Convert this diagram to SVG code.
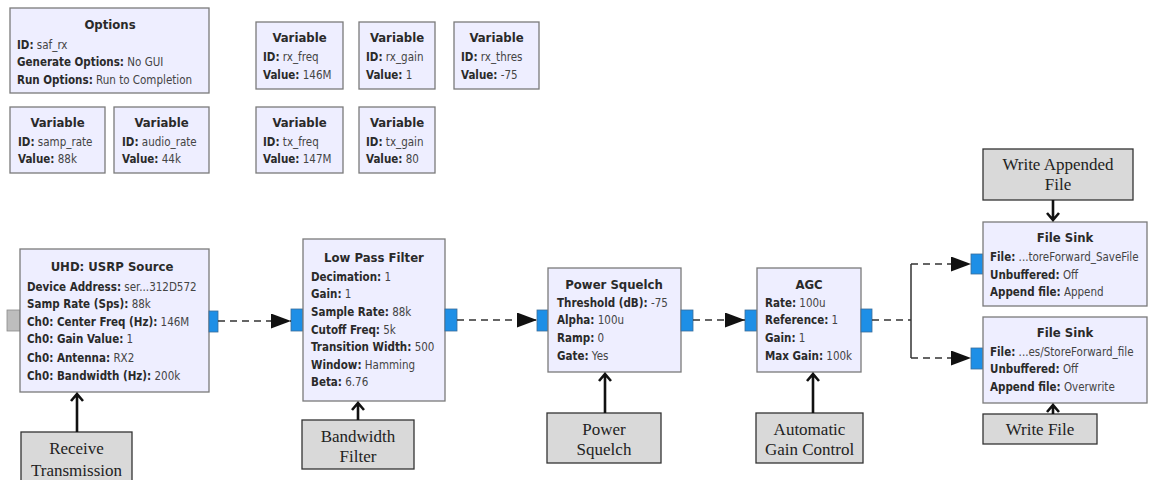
<svg xmlns="http://www.w3.org/2000/svg" width="1149" height="480" viewBox="0 0 1149 480">
  <style>
    .blk { fill: #EEEEFF; stroke: #7A7A7A; stroke-width: 1.3; }
    .port { fill: #1E8FE6; stroke: #3A6D99; stroke-width: 0.8; }
    .gport { fill: #BDBDBD; stroke: #8A8A8A; stroke-width: 0.8; }
    .lbl { fill: #D9D9D9; stroke: #333333; stroke-width: 1.3; }
    text { font-family: "DejaVu Sans Condensed", "DejaVu Sans", "Liberation Sans", sans-serif; font-size: 11.5px; fill: #444444; }
    .t { font-weight: bold; font-size: 13px; fill: #2A2A2A; text-anchor: middle; }
    .k { font-weight: bold; fill: #2A2A2A; }
    .cap { font-family: "Liberation Serif", "Times New Roman", serif; font-size: 17px; fill: #222222; text-anchor: middle; }
    .flow { fill: none; stroke: #333333; stroke-width: 1.5; stroke-dasharray: 7 5; }
    .solid { fill: none; stroke: #333333; stroke-width: 1.5; }
    .ptr { fill: none; stroke: #111111; stroke-width: 2.6; }
  </style>
  <defs>
    <marker id="tri" markerWidth="20" markerHeight="15" refX="20" refY="7.5" orient="auto" markerUnits="userSpaceOnUse" viewBox="0 0 20 15">
      <path d="M0,0 L20,7.5 L0,15 Z" fill="#111111"/>
    </marker>
  </defs>

  <!-- variables and options -->
  <g id="options">
    <rect class="blk" x="10" y="8" width="199" height="85"/>
    <text class="t" x="110" y="29">Options</text>
    <text x="17" y="49"><tspan class="k">ID:</tspan> saf_rx</text>
    <text x="17" y="66"><tspan class="k">Generate Options:</tspan> No GUI</text>
    <text x="17" y="84"><tspan class="k">Run Options:</tspan> Run to Completion</text>
  </g>
  <g id="var_samp_rate">
    <rect class="blk" x="10" y="107" width="95" height="66"/>
    <text class="t" x="57.5" y="127">Variable</text>
    <text x="18" y="146"><tspan class="k">ID:</tspan> samp_rate</text>
    <text x="18" y="163"><tspan class="k">Value:</tspan> 88k</text>
  </g>
  <g id="var_audio_rate">
    <rect class="blk" x="114" y="107" width="95" height="66"/>
    <text class="t" x="161.5" y="127">Variable</text>
    <text x="122" y="146"><tspan class="k">ID:</tspan> audio_rate</text>
    <text x="122" y="163"><tspan class="k">Value:</tspan> 44k</text>
  </g>
  <g id="var_rx_freq">
    <rect class="blk" x="256" y="22" width="87" height="67"/>
    <text class="t" x="299.5" y="42">Variable</text>
    <text x="263" y="61"><tspan class="k">ID:</tspan> rx_freq</text>
    <text x="263" y="79"><tspan class="k">Value:</tspan> 146M</text>
  </g>
  <g id="var_rx_gain">
    <rect class="blk" x="359" y="22" width="76" height="67"/>
    <text class="t" x="397" y="42">Variable</text>
    <text x="366" y="61"><tspan class="k">ID:</tspan> rx_gain</text>
    <text x="366" y="79"><tspan class="k">Value:</tspan> 1</text>
  </g>
  <g id="var_rx_thres">
    <rect class="blk" x="454" y="22" width="85" height="67"/>
    <text class="t" x="496.5" y="42">Variable</text>
    <text x="461" y="61"><tspan class="k">ID:</tspan> rx_thres</text>
    <text x="461" y="79"><tspan class="k">Value:</tspan> -75</text>
  </g>
  <g id="var_tx_freq">
    <rect class="blk" x="256" y="107" width="87" height="66"/>
    <text class="t" x="299.5" y="127">Variable</text>
    <text x="263" y="146"><tspan class="k">ID:</tspan> tx_freq</text>
    <text x="263" y="163"><tspan class="k">Value:</tspan> 147M</text>
  </g>
  <g id="var_tx_gain">
    <rect class="blk" x="359" y="107" width="76" height="66"/>
    <text class="t" x="397" y="127">Variable</text>
    <text x="366" y="146"><tspan class="k">ID:</tspan> tx_gain</text>
    <text x="366" y="163"><tspan class="k">Value:</tspan> 80</text>
  </g>

  <!-- signal chain -->
  <g id="usrp_source">
    <rect class="gport" x="7" y="310" width="13" height="21"/>
    <rect class="blk" x="20" y="249" width="189" height="143"/>
    <rect class="port" x="209" y="311" width="9" height="21"/>
    <text class="t" x="112" y="271">UHD: USRP Source</text>
    <text x="27" y="291"><tspan class="k">Device Address:</tspan> ser...312D572</text>
    <text x="27" y="308"><tspan class="k">Samp Rate (Sps):</tspan> 88k</text>
    <text x="27" y="326"><tspan class="k">Ch0: Center Freq (Hz):</tspan> 146M</text>
    <text x="27" y="343"><tspan class="k">Ch0: Gain Value:</tspan> 1</text>
    <text x="27" y="362"><tspan class="k">Ch0: Antenna:</tspan> RX2</text>
    <text x="27" y="380"><tspan class="k">Ch0: Bandwidth (Hz):</tspan> 200k</text>
  </g>
  <g id="low_pass_filter">
    <rect class="port" x="291" y="309" width="12" height="22"/>
    <rect class="blk" x="303" y="239" width="142" height="162"/>
    <rect class="port" x="445" y="309" width="12" height="22"/>
    <text class="t" x="374" y="262">Low Pass Filter</text>
    <text x="311" y="281"><tspan class="k">Decimation:</tspan> 1</text>
    <text x="311" y="298"><tspan class="k">Gain:</tspan> 1</text>
    <text x="311" y="316"><tspan class="k">Sample Rate:</tspan> 88k</text>
    <text x="311" y="334"><tspan class="k">Cutoff Freq:</tspan> 5k</text>
    <text x="311" y="351"><tspan class="k">Transition Width:</tspan> 500</text>
    <text x="311" y="369"><tspan class="k">Window:</tspan> Hamming</text>
    <text x="311" y="386"><tspan class="k">Beta:</tspan> 6.76</text>
  </g>
  <g id="power_squelch">
    <rect class="port" x="537" y="310" width="11" height="21"/>
    <rect class="blk" x="548" y="268" width="133" height="104"/>
    <rect class="port" x="681" y="310" width="12" height="21"/>
    <text class="t" x="614" y="289">Power Squelch</text>
    <text x="557" y="307"><tspan class="k">Threshold (dB):</tspan> -75</text>
    <text x="557" y="324"><tspan class="k">Alpha:</tspan> 100u</text>
    <text x="557" y="342"><tspan class="k">Ramp:</tspan> 0</text>
    <text x="557" y="360"><tspan class="k">Gate:</tspan> Yes</text>
  </g>
  <g id="agc">
    <rect class="port" x="745" y="310" width="12" height="21"/>
    <rect class="blk" x="757" y="268" width="104" height="104"/>
    <rect class="port" x="861" y="309" width="11" height="23"/>
    <text class="t" x="809" y="289">AGC</text>
    <text x="765" y="307"><tspan class="k">Rate:</tspan> 100u</text>
    <text x="765" y="324"><tspan class="k">Reference:</tspan> 1</text>
    <text x="765" y="342"><tspan class="k">Gain:</tspan> 1</text>
    <text x="765" y="360"><tspan class="k">Max Gain:</tspan> 100k</text>
  </g>
  <g id="file_sink_append">
    <rect class="port" x="971" y="254" width="12" height="20"/>
    <rect class="blk" x="983" y="222" width="164" height="84"/>
    <text class="t" x="1065" y="242">File Sink</text>
    <text x="990" y="261"><tspan class="k">File:</tspan> ...toreForward_SaveFile</text>
    <text x="990" y="279"><tspan class="k">Unbuffered:</tspan> Off</text>
    <text x="990" y="296"><tspan class="k">Append file:</tspan> Append</text>
  </g>
  <g id="file_sink_overwrite">
    <rect class="port" x="971" y="348" width="12" height="21"/>
    <rect class="blk" x="983" y="317" width="164" height="86"/>
    <text class="t" x="1065" y="337">File Sink</text>
    <text x="990" y="356"><tspan class="k">File:</tspan> ...es/StoreForward_file</text>
    <text x="990" y="373"><tspan class="k">Unbuffered:</tspan> Off</text>
    <text x="990" y="391"><tspan class="k">Append file:</tspan> Overwrite</text>
  </g>

  <!-- caption boxes -->
  <g id="cap_receive">
    <rect class="lbl" x="21" y="432" width="111" height="60"/>
    <text class="cap" x="76.5" y="454">Receive</text>
    <text class="cap" x="76.5" y="476">Transmission</text>
  </g>
  <g id="cap_bandwidth">
    <rect class="lbl" x="302" y="420" width="112" height="49"/>
    <text class="cap" x="358" y="442">Bandwidth</text>
    <text class="cap" x="358" y="462">Filter</text>
  </g>
  <g id="cap_squelch">
    <rect class="lbl" x="547" y="413" width="114" height="50"/>
    <text class="cap" x="604" y="435">Power</text>
    <text class="cap" x="604" y="455">Squelch</text>
  </g>
  <g id="cap_agc">
    <rect class="lbl" x="756" y="413" width="107" height="50"/>
    <text class="cap" x="809.5" y="435">Automatic</text>
    <text class="cap" x="809.5" y="455">Gain Control</text>
  </g>
  <g id="cap_write_appended">
    <rect class="lbl" x="983" y="149" width="150" height="51"/>
    <text class="cap" x="1058" y="170">Write Appended</text>
    <text class="cap" x="1058" y="190">File</text>
  </g>
  <g id="cap_write_file">
    <rect class="lbl" x="983" y="414" width="114" height="30"/>
    <text class="cap" x="1040" y="435">Write File</text>
  </g>

  <!-- connectors -->
  <g id="connectors">
    <path class="flow" d="M218,321 H291" marker-end="url(#tri)"/>
    <path class="flow" d="M457,320 H537" marker-end="url(#tri)"/>
    <path class="flow" d="M693,320 H745" marker-end="url(#tri)"/>
    <path class="flow" d="M872,320 H911"/>
    <path class="solid" d="M911,264 V358"/>
    <path class="flow" d="M911,264 H971" marker-end="url(#tri)"/>
    <path class="flow" d="M911,358 H971" marker-end="url(#tri)"/>

    <!-- caption pointers: shaft plus open chevron head -->
    <path class="ptr" d="M77,432 V394 M71,401 L77,394 L83,401"/>
    <path class="ptr" d="M358,420 V403 M352,410 L358,403 L364,410"/>
    <path class="ptr" d="M605,413 V374 M599,381 L605,374 L611,381"/>
    <path class="ptr" d="M813,413 V374 M807,381 L813,374 L819,381"/>
    <path class="ptr" d="M1053,200 V220 M1047,213 L1053,220 L1059,213"/>
    <path class="ptr" d="M1053,414 V405 M1047,412 L1053,405 L1059,412"/>
  </g>
</svg>
